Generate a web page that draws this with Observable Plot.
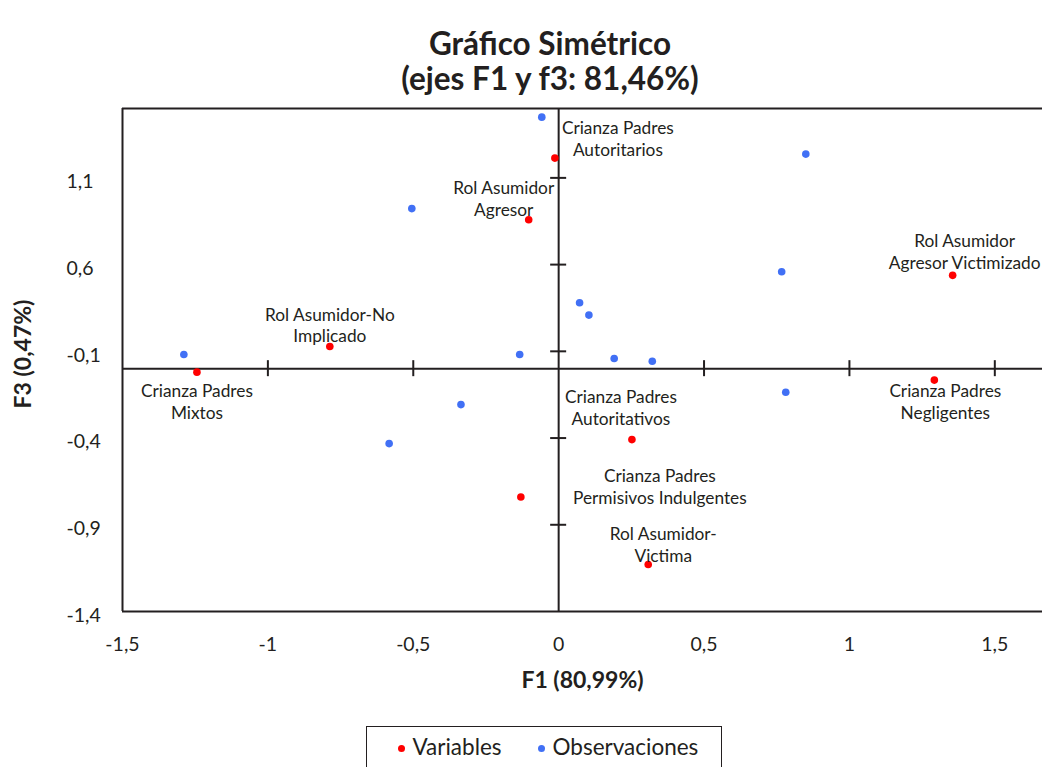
<!DOCTYPE html>
<html>
<head>
<meta charset="utf-8">
<script src="https://cdn.jsdelivr.net/npm/d3@7"></script>
<script src="https://cdn.jsdelivr.net/npm/@observablehq/plot@0.6"></script>
<style>
  body { margin: 0; background: #fff; font-family: Lato, "Open Sans", sans-serif; color: #231f20; }
  #wrap { position: relative; width: 1042px; height: 767px; overflow: hidden; background: #fff; }
  #title { position: absolute; left: 58px; right: 0; top: 0; height: 100px; text-align: center;
           font-weight: bold; font-size: 31.5px; line-height: 35px; padding-top: 26px; box-sizing: border-box; }
  #chart { position: absolute; left: 0; top: 100px; }
  #legend { position: absolute; left: 366px; top: 726px; width: 356px; height: 60px;
            border: 1.5px solid #231f20; box-sizing: border-box; font-size: 22.5px; }
  #legend .item { position: absolute; top: 6px; line-height: 28px; white-space: nowrap; }
  #legend .dot { position: absolute; width: 7px; height: 7px; border-radius: 50%; top: 18px; }
</style>
</head>
<body>
<div id="wrap">
  <div id="title">Gráfico Simétrico<br>(ejes F1 y f3: 81,46%)</div>
  <div id="chart"></div>
  <div id="legend"></div>
</div>
<script>
// ---- Data ----
const varLabels = [
  "Crianza Padres\nAutoritarios",
  "Rol Asumidor\nAgresor",
  "Rol Asumidor-No\nImplicado",
  "Crianza Padres\nMixtos",
  "Crianza Padres\nAutoritativos",
  "Crianza Padres\nPermisivos Indulgentes",
  "Rol Asumidor-\nVictima",
  "Crianza Padres\nNegligentes",
  "Rol Asumidor\nAgresor Victimizado"
];
const varF1 = [-0.013, -0.103, -0.787, -1.244, 0.252, -0.130, 0.308, 1.292, 1.355];
const varF3 = [1.214, 0.859, 0.128, -0.020, -0.409, -0.740, -1.129, -0.066, 0.538];

const obsF1 = [-0.058, -0.505, -1.289, -0.134, 0.850, 0.767, 0.072, 0.104, 0.191, 0.322, -0.336, -0.583, 0.781];
const obsF3 = [1.450, 0.923, 0.082, 0.082, 1.237, 0.559, 0.380, 0.309, 0.059, 0.043, -0.207, -0.432, -0.136];

const xTicks = [-1.5, -1, -0.5, 0, 0.5, 1, 1.5];
const xTickLabels = ["-1,5", "-1", "-0,5", "0", "0,5", "1", "1,5"];
const yTicks = [1.1, 0.6, 0.1, -0.4, -0.9, -1.4];
const yTickLabels = ["1,1", "0,6", "-0,1", "-0,4", "-0,9", "-1,4"];

const xLabel = "F1 (80,99%)";
const yLabel = "F3 (0,47%)";
const seriesNames = ["Variables", "Observaciones"];
const seriesColors = ["#ff0000", "#4170f5"];

// ---- Layout of point labels (pixel offsets of the label block centre) ----
const labelOffsets = [
  [63, -20], [-25, -22], [0, -22], [0, 29], [-11, -33], [139, -11], [15, -21], [11, 21], [12, -24]
];

// ---- Build tables ----
const vars = varLabels.map((label, i) => ({label, f1: varF1[i], f3: varF3[i]}));
const obs = obsF1.map((f1, i) => ({f1, f3: obsF3[i]}));

const ink = "#231f20";
const labelMarks = vars.map((v, i) =>
  Plot.text([v], {
    x: "f1", y: "f3", text: "label",
    dx: labelOffsets[i][0], dy: labelOffsets[i][1],
    lineAnchor: "middle", lineHeight: 1.27, fontSize: 17.3, fill: ink
  })
);

const chart = Plot.plot({
  width: 1042,
  height: 610,
  marginLeft: 122,
  marginRight: 0,
  marginTop: 8,
  marginBottom: 99,
  x: {domain: [-1.5, 1.664]},
  y: {domain: [-1.4, 1.5]},
  style: {fontFamily: "Lato, 'Open Sans', sans-serif", color: ink, background: "transparent", overflow: "visible"},
  marks: [
    // frame (top, bottom, left)
    Plot.ruleY([-1.4, 1.5], {stroke: ink, strokeWidth: 2}),
    Plot.ruleX([-1.5], {stroke: ink, strokeWidth: 2}),
    // zero axes
    Plot.ruleX([0], {stroke: ink, strokeWidth: 2}),
    Plot.ruleY([0], {stroke: ink, strokeWidth: 2}),
    // tick marks crossing the zero axes
    Plot.ruleX(xTicks.filter(t => t !== 0 && t !== -1.5), {x: d => d, y1: 0, y2: 0, insetTop: -8, insetBottom: -8, stroke: ink, strokeWidth: 2}),
    Plot.ruleY(yTicks.filter(t => t !== -1.4), {y: d => d, x1: 0, x2: 0, insetLeft: -8, insetRight: -8, stroke: ink, strokeWidth: 2}),
    // tick labels
    Plot.axisX(xTicks, {tickSize: 0, tickPadding: 26, fontSize: 19.5, fill: ink, label: null,
      tickFormat: d => xTickLabels[xTicks.indexOf(d)]}),
    Plot.axisY(yTicks, {tickSize: 0, tickPadding: 56, textAnchor: "start", dy: 4, fontSize: 19.5, fill: ink, label: null,
      tickFormat: d => yTickLabels[yTicks.indexOf(d)]}),
    // axis titles
    Plot.text([xLabel], {frameAnchor: "bottom", textAnchor: "middle", dy: 76, fontWeight: "bold", fontSize: 23, fill: ink}),
    Plot.text([yLabel], {frameAnchor: "left", textAnchor: "middle", dx: -99, dy: -6, rotate: -90, fontWeight: "bold", fontSize: 23, fill: ink}),
    // points
    Plot.dot(obs, {x: "f1", y: "f3", r: 3.8, fill: seriesColors[1]}),
    Plot.dot(vars, {x: "f1", y: "f3", r: 3.8, fill: seriesColors[0]}),
    ...labelMarks
  ]
});
document.getElementById("chart").appendChild(chart);

// ---- Legend ----
const legend = document.getElementById("legend");
const legendPos = [[36, 47], [176, 187]]; // dot centre x, text left x (relative to box)
seriesNames.forEach((name, i) => {
  const dot = document.createElement("div");
  dot.className = "dot";
  dot.style.background = seriesColors[i];
  dot.style.left = (legendPos[i][0] - 3.5 - 1.5) + "px";
  legend.appendChild(dot);
  const t = document.createElement("div");
  t.className = "item";
  t.style.left = (legendPos[i][1] - 1.5) + "px";
  t.textContent = name;
  legend.appendChild(t);
});
</script>
</body>
</html>
